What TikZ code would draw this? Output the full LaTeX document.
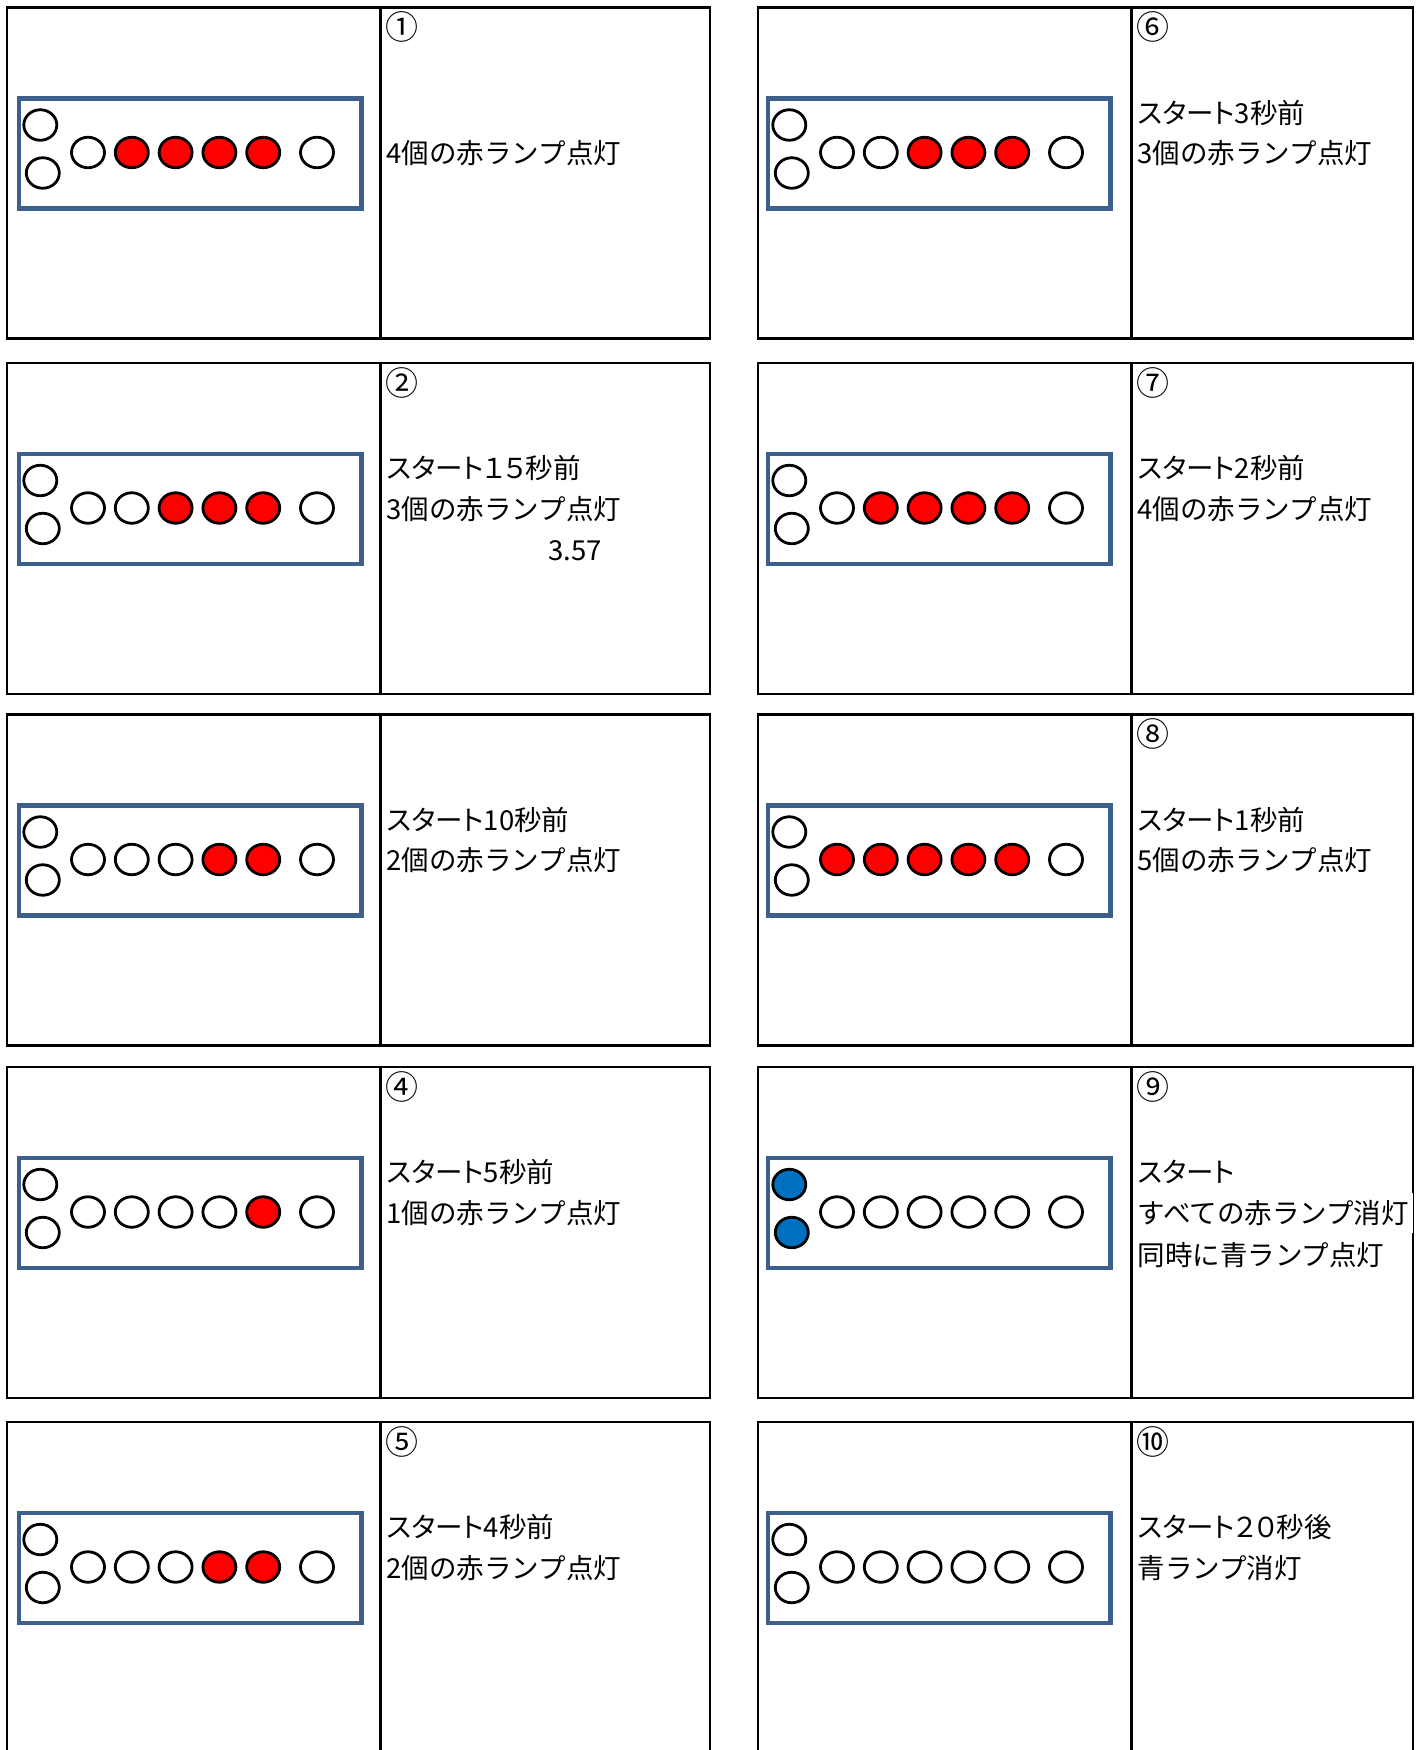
\documentclass[tikz,border=0pt]{standalone}
\usepackage{fontspec}
\setmainfont{Noto Sans CJK JP}
\usetikzlibrary{shapes.geometric}
\definecolor{boardblue}{HTML}{3D5F8C}
\definecolor{lampred}{HTML}{FF0000}
\definecolor{lampblue}{HTML}{0070C0}

\begin{document}
\begin{tikzpicture}[x=1pt,y=-1pt,
    panel/.style={draw,line width=2.6pt},
    board/.style={draw=boardblue,line width=4.8pt},
    lamp/.style={ellipse,draw,line width=2.8pt,minimum width=33pt,minimum height=30.5pt,inner sep=0pt},
    txt/.style={anchor=west,inner sep=0pt,font=\fontsize{27.5}{30}\selectfont},
    head/.style={txt,font=\fontsize{27.5}{30}\selectfont\addfontfeatures{RawFeature=+palt}},
    num/.style={txt,font=\fontsize{33}{36}\selectfont}]
  \useasboundingbox (0,0) rectangle (1421,1750);
  \clip (0,0) rectangle (1421,1750);
  % panels: name/left/top/width/board inset/red lamps/start lamps
  \foreach \p/\px/\py/\pw/\bx/\reds/\go in {p1/7/7.5/703/12/4/white, p6/758/7.5/655/10/3/white,
      p2/7/363/703/12/3/white, p7/758/363/655/10/4/white, p3/7/714.5/703/12/2/white,
      p8/758/714.5/655/10/5/white, p4/7/1067/703/12/1/white, p9/758/1067/655/10/0/lampblue,
      p5/7/1422/703/12/2/white, p10/758/1422/655/10/0/white}{
    \coordinate (\p) at (\px,\py);
    \draw[panel] (\p) rectangle ++(\pw,331);
    \draw[panel] ([shift={(373.5,0)}]\p) -- ++(0,331);
    \draw[board] ([shift={(\bx,91)}]\p) rectangle ++(342.5,110);
    \node[lamp,fill=\go] (\p-s1) at ([shift={({\bx+21.3},117.5)}]\p) {};
    \node[lamp,fill=\go] (\p-s2) at ([shift={({\bx+23.8},165.5)}]\p) {};
    \foreach \i in {1,...,5}{
      \pgfmathtruncatemacro\lit{\i>5-\reds}
      \ifnum\lit=1 \def\col{lampred}\else\def\col{white}\fi
      \node[lamp,fill=\col] (\p-l\i) at ([shift={({\bx+69+43.8*(\i-1)},145)}]\p) {};
    }
    \node[lamp,fill=white] (\p-l6) at ([shift={({\bx+298},145)}]\p) {};
  }

  % texts
  \node[num] (p1-n) at ([shift={(378.5,19.5)}]p1) {①};
  \node[txt] (p1-b) at ([shift={(379.5,146)}]p1) {4個の赤ランプ点灯};

  \node[num] (p2-n) at ([shift={(378.5,19.5)}]p2) {②};
  \node[head] (p2-a) at ([shift={(379.5,105)}]p2) {スタート１５秒前};
  \node[txt] (p2-b) at ([shift={(379.5,146)}]p2) {3個の赤ランプ点灯};
  \node[txt,anchor=center] (p2-c) at ([shift={(568,188)}]p2) {3.57};

  \node[head] (p3-a) at ([shift={(379.5,105)}]p3) {スタート10秒前};
  \node[txt] (p3-b) at ([shift={(379.5,146)}]p3) {2個の赤ランプ点灯};

  \node[num] (p4-n) at ([shift={(378.5,19.5)}]p4) {④};
  \node[head] (p4-a) at ([shift={(379.5,105)}]p4) {スタート5秒前};
  \node[txt] (p4-b) at ([shift={(379.5,146)}]p4) {1個の赤ランプ点灯};

  \node[num] (p5-n) at ([shift={(378.5,19.5)}]p5) {⑤};
  \node[head] (p5-a) at ([shift={(379.5,105)}]p5) {スタート4秒前};
  \node[txt] (p5-b) at ([shift={(379.5,146)}]p5) {2個の赤ランプ点灯};

  \node[num] (p6-n) at ([shift={(378.5,19.5)}]p6) {⑥};
  \node[head] (p6-a) at ([shift={(379.5,105)}]p6) {スタート3秒前};
  \node[txt] (p6-b) at ([shift={(379.5,146)}]p6) {3個の赤ランプ点灯};

  \node[num] (p7-n) at ([shift={(378.5,19.5)}]p7) {⑦};
  \node[head] (p7-a) at ([shift={(379.5,105)}]p7) {スタート2秒前};
  \node[txt] (p7-b) at ([shift={(379.5,146)}]p7) {4個の赤ランプ点灯};

  \node[num] (p8-n) at ([shift={(378.5,19.5)}]p8) {⑧};
  \node[head] (p8-a) at ([shift={(379.5,105)}]p8) {スタート1秒前};
  \node[txt] (p8-b) at ([shift={(379.5,146)}]p8) {5個の赤ランプ点灯};

  \node[num] (p9-n) at ([shift={(378.5,19.5)}]p9) {⑨};
  \node[head] (p9-a) at ([shift={(379.5,105)}]p9) {スタート};
  \node[txt,fill=white,inner xsep=4pt,inner ysep=7pt] (p9-b) at ([shift={(375.5,146)}]p9) {すべての赤ランプ消灯};
  \node[txt] (p9-c) at ([shift={(379.5,188)}]p9) {同時に青ランプ点灯};

  \node[num] (p10-n) at ([shift={(378.5,19.5)}]p10) {⑩};
  \node[head] (p10-a) at ([shift={(379.5,105)}]p10) {スタート２０秒後};
  \node[txt] (p10-b) at ([shift={(379.5,146)}]p10) {青ランプ消灯};
\end{tikzpicture}
\end{document}
